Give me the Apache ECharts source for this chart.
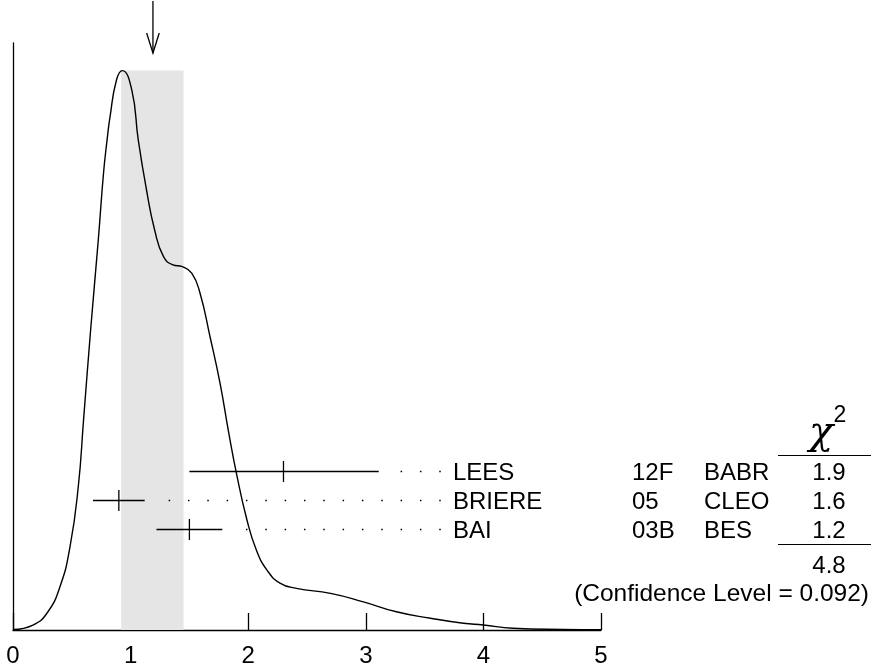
<!DOCTYPE html>
<html>
<head>
<meta charset="utf-8">
<script src="https://cdn.jsdelivr.net/npm/echarts@6/dist/echarts.min.js"></script>
<style>
  html, body { margin: 0; padding: 0; background: #ffffff; }
  #chart { width: 872px; height: 669px; }
</style>
</head>
<body>
<div id="chart"></div>
<script>
// Ideogram curve (x value, relative height)
const curveX = [0.00, 0.17, 0.29, 0.40, 0.485, 0.555, 0.60, 0.66, 0.725, 0.77, 0.80, 0.825, 0.88, 0.93,
                1.01, 1.065, 1.135, 1.205, 1.28, 1.36, 1.44, 1.52, 1.59, 1.675, 1.76, 1.83, 1.90, 1.99,
                2.07, 2.16, 2.27, 2.41, 2.70, 2.98, 3.26, 3.55, 3.83, 4.00, 4.25, 4.68, 5.00];
const curveY = [0.001, 0.0085, 0.029, 0.074, 0.142, 0.244, 0.358, 0.511, 0.664, 0.779, 0.835, 0.874, 0.937, 0.953,
                0.920, 0.835, 0.750, 0.681, 0.636, 0.622, 0.619, 0.608, 0.574, 0.500, 0.421, 0.341, 0.267, 0.187,
                0.136, 0.102, 0.080, 0.071, 0.0625, 0.048, 0.031, 0.020, 0.0114, 0.0085, 0.003, 0.001, 0.0005];

// Measurements
const names = ['LEES', 'BRIERE', 'BAI'];
const years = ['12F', '05', '03B'];
const experiments = ['BABR', 'CLEO', 'BES'];
const values = [2.30, 0.90, 1.50];
const errLow = [0.80, 0.22, 0.28];
const errHigh = [0.81, 0.22, 0.28];
const chi2 = ['1.9', '1.6', '1.2'];
const chi2Total = '4.8';
const confidenceLevel = '0.092';

// Weighted average and its scaled error band
const average = 1.19;
const bandLow = 0.92;
const bandHigh = 1.45;
const bandTop = 0.953;

const xTicks = [0, 1, 2, 3, 4, 5];

const FONT = '"Liberation Sans", Arial, Helvetica, sans-serif';
const ROW_Y0 = 471.5;   // pixel row of first measurement
const ROW_STEP = 29;
const LABEL_X = 453;
const DOT_END = 440;
const DOT_STEP = 19.33;
const TEXT_FONT = '24px ' + FONT;

const chart = echarts.init(document.getElementById('chart'), null, { renderer: 'canvas' });

const curveData = curveX.map((x, i) => [x, curveY[i]]);
const measData = values.map((v, i) => [v, v - errLow[i], v + errHigh[i], i]);

function renderMeasurement(params, api) {
  const i = api.value(3);
  const y = ROW_Y0 + i * ROW_STEP;
  const xc = api.coord([api.value(0), 0])[0];
  const xl = api.coord([api.value(1), 0])[0];
  const xr = api.coord([api.value(2), 0])[0];
  const style = { stroke: '#000', lineWidth: 1.3 };
  const children = [
    { type: 'line', shape: { x1: xl, y1: y, x2: xr, y2: y }, style: style },
    { type: 'line', shape: { x1: xc, y1: y - 10.5, x2: xc, y2: y + 10.5 }, style: style }
  ];
  for (let dx = DOT_END; dx > xr + 18; dx -= DOT_STEP) {
    children.push({ type: 'rect', shape: { x: dx - 0.75, y: y - 0.75, width: 1.5, height: 1.5 }, style: { fill: '#000' } });
  }
  children.push({
    type: 'text',
    style: { x: LABEL_X, y: y + 1.5, text: names[i], font: TEXT_FONT, fill: '#000', verticalAlign: 'middle' }
  });
  return { type: 'group', children: children };
}

function renderArrow(params, api) {
  const x = api.coord([api.value(0), 0])[0];
  const style = { stroke: '#000', lineWidth: 1.3 };
  return {
    type: 'group',
    children: [
      { type: 'line', shape: { x1: x, y1: 1, x2: x, y2: 53 }, style: style },
      { type: 'polyline', shape: { points: [[x - 6.3, 33], [x, 53], [x + 6.3, 33]] }, style: { stroke: '#000', lineWidth: 1.3, fill: null } }
    ]
  };
}

// Chi-square table on the right
const tableText = [];
years.forEach((t, i) => {
  const y = ROW_Y0 + i * ROW_STEP + 1.5;
  tableText.push({ type: 'text', x: 632, y: y, style: { text: t, font: TEXT_FONT, fill: '#000', verticalAlign: 'middle' } });
  tableText.push({ type: 'text', x: 704, y: y, style: { text: experiments[i], font: TEXT_FONT, fill: '#000', verticalAlign: 'middle' } });
  tableText.push({ type: 'text', x: 829, y: y, style: { text: chi2[i], font: TEXT_FONT, fill: '#000', align: 'center', verticalAlign: 'middle' } });
});
tableText.push({ type: 'text', x: 829, y: 566.5, style: { text: chi2Total, font: TEXT_FONT, fill: '#000', align: 'center', verticalAlign: 'middle' } });
tableText.push({ type: 'text', x: 869, y: 594.5, style: { text: '(Confidence Level = ' + confidenceLevel + ')', font: '24.5px ' + FONT, fill: '#000', align: 'right', verticalAlign: 'middle' } });
tableText.push({ type: 'text', x: 821, y: 434, style: { text: 'χ', font: 'italic 40px "DejaVu Serif", serif', fill: '#000', align: 'center', verticalAlign: 'middle' } });
tableText.push({ type: 'text', x: 840, y: 416, style: { text: '2', font: '23px ' + FONT, fill: '#000', align: 'center', verticalAlign: 'middle' } });
tableText.push({ type: 'line', shape: { x1: 778, y1: 455.5, x2: 871, y2: 455.5 }, style: { stroke: '#000', lineWidth: 1.2 } });
tableText.push({ type: 'line', shape: { x1: 778, y1: 544.5, x2: 871, y2: 544.5 }, style: { stroke: '#000', lineWidth: 1.2 } });

chart.setOption({
  animation: false,
  backgroundColor: '#ffffff',
  grid: { left: 13, right: 271, top: 43, bottom: 39, containLabel: false },
  xAxis: {
    type: 'value', min: 0, max: 5, interval: 1,
    axisLine: { show: true, onZero: false, lineStyle: { color: '#000', width: 1.3 } },
    axisTick: { show: true, inside: true, length: 17, lineStyle: { color: '#000', width: 1.3 } },
    axisLabel: { color: '#000', fontSize: 24, fontFamily: FONT, margin: 14,
                 formatter: v => xTicks.includes(v) ? String(v) : '' },
    splitLine: { show: false }
  },
  yAxis: {
    type: 'value', min: 0, max: 1,
    axisLine: { show: true, lineStyle: { color: '#000', width: 1.3 } },
    axisTick: { show: false },
    axisLabel: { show: false },
    splitLine: { show: false }
  },
  series: [
    {
      type: 'line',
      data: curveData,
      showSymbol: false,
      smooth: true,
      lineStyle: { color: '#000', width: 1.4 },
      z: 3,
      markArea: {
        silent: true,
        itemStyle: { color: '#e5e5e5' },
        data: [[{ coord: [bandLow, 0] }, { coord: [bandHigh, bandTop] }]]
      }
    },
    {
      type: 'custom',
      data: measData,
      renderItem: renderMeasurement,
      clip: false,
      z: 4
    },
    {
      type: 'custom',
      data: [[average]],
      renderItem: renderArrow,
      clip: false,
      z: 4
    }
  ],
  graphic: tableText
});
</script>
</body>
</html>
